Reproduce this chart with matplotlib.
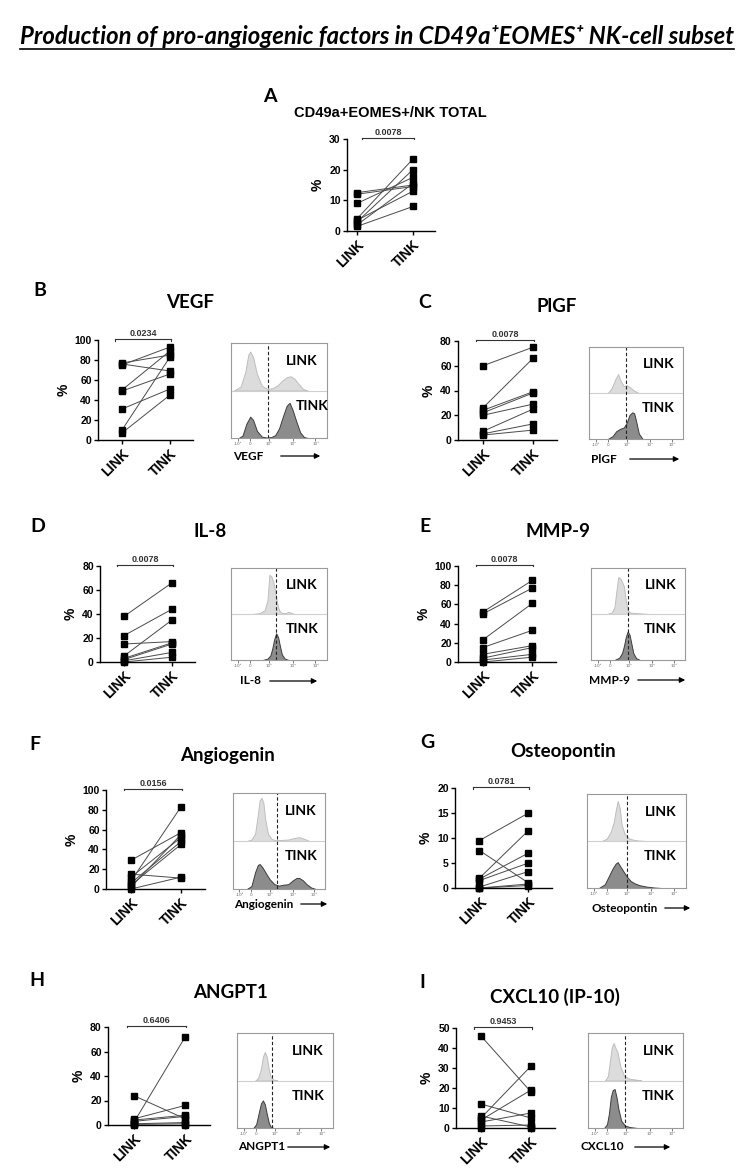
import matplotlib
matplotlib.use("Agg")
import matplotlib.pyplot as plt
from matplotlib.patches import FancyArrowPatch
from matplotlib.lines import Line2D

plt.rcParams['font.family'] = ['Liberation Sans', 'DejaVu Sans']

W, H = 751, 1176

# paired values (% of cells), LINK -> TINK, one pair per donor
a_link = [12.5, 12, 9, 4, 3.5, 3, 2, 1.5]
a_tink = [15, 14.5, 17.5, 23.5, 13, 20, 15.5, 8]
vegf_link = [77, 76, 75, 50, 49, 31, 10, 7]
vegf_tink = [85, 69, 93, 89, 66, 51, 83, 45]
plgf_link = [60, 26, 24, 22, 20, 7, 5, 4]
plgf_tink = [75, 66, 39, 38, 29, 25, 13, 8]
il8_link = [38, 22, 15, 5, 3, 2, 1, 0]
il8_tink = [66, 44, 17, 35, 16, 15, 8, 4]
mmp9_link = [52, 50, 23, 15, 8, 4, 2, 0]
mmp9_tink = [85, 77, 61, 33, 17, 15, 8, 5]
angio_link = [29, 15, 12, 8, 6, 4, 2, 0]
angio_tink = [57, 11, 52, 83, 48, 45, 55, 12]
opn_link = [9.5, 7.5, 2, 1.8, 1.5, 0.2, 0, 0]
opn_tink = [15, 1, 11.5, 7, 5, 3.3, 0.8, 0.5]
angpt1_link = [24, 5, 4, 3, 2, 1, 0.5, 0]
angpt1_tink = [5, 16, 8, 7, 72, 2, 1, 0]
cxcl10_link = [46, 12, 6, 5, 4, 3, 1, 0]
cxcl10_tink = [18, 5, 0.5, 31, 19, 7.5, 1.5, 0]

p_values = ['0.0078', '0.0234', '0.0078', '0.0078', '0.0078', '0.0156', '0.0781', '0.6406', '0.9453']
y_max = [30, 100, 80, 80, 100, 100, 20, 80, 50]
y_step = [10, 20, 20, 20, 20, 20, 5, 20, 10]

# representative flow histograms (x: fraction of log axis, y: fraction of band)
vegf_hl_x = [0.03, 0.1, 0.15, 0.18, 0.2, 0.23, 0.27, 0.32, 0.38, 0.43, 0.48, 0.53, 0.58, 0.62, 0.66, 0.7, 0.75, 0.8]
vegf_hl_y = [0, 0.08, 0.4, 0.75, 0.82, 0.7, 0.35, 0.1, 0.03, 0.05, 0.1, 0.2, 0.28, 0.3, 0.25, 0.15, 0.03, 0]
vegf_ht_x = [0.08, 0.12, 0.16, 0.2, 0.23, 0.27, 0.32, 0.37, 0.42, 0.46, 0.5, 0.54, 0.58, 0.61, 0.64, 0.68, 0.72, 0.76, 0.8]
vegf_ht_y = [0, 0.05, 0.3, 0.45, 0.38, 0.15, 0.03, 0.01, 0.02, 0.06, 0.2, 0.45, 0.68, 0.74, 0.6, 0.35, 0.12, 0.02, 0]
plgf_hl_x = [0.2, 0.24, 0.28, 0.31, 0.34, 0.37, 0.4, 0.44, 0.48, 0.53]
plgf_hl_y = [0, 0.1, 0.3, 0.41, 0.25, 0.15, 0.17, 0.12, 0.05, 0]
plgf_ht_x = [0.2, 0.25, 0.29, 0.33, 0.37, 0.4, 0.43, 0.46, 0.48, 0.5, 0.53, 0.57]
plgf_ht_y = [0, 0.06, 0.17, 0.22, 0.25, 0.35, 0.52, 0.58, 0.56, 0.4, 0.12, 0]
il8_hl_x = [0.22, 0.3, 0.35, 0.38, 0.4, 0.42, 0.44, 0.46, 0.48, 0.5, 0.53, 0.57, 0.6, 0.63, 0.66]
il8_hl_y = [0, 0.02, 0.08, 0.3, 0.85, 0.82, 0.7, 0.5, 0.25, 0.08, 0.02, 0.02, 0.05, 0.02, 0]
il8_ht_x = [0.33, 0.38, 0.41, 0.43, 0.45, 0.47, 0.49, 0.51, 0.53, 0.56, 0.6]
il8_ht_y = [0, 0.03, 0.1, 0.25, 0.45, 0.58, 0.5, 0.3, 0.12, 0.03, 0]
mmp9_hl_x = [0.17, 0.22, 0.25, 0.27, 0.29, 0.31, 0.33, 0.35, 0.37, 0.39, 0.42, 0.47, 0.55, 0.62]
mmp9_hl_y = [0, 0.03, 0.15, 0.5, 0.8, 0.78, 0.7, 0.6, 0.3, 0.08, 0.03, 0.02, 0.01, 0]
mmp9_ht_x = [0.25, 0.3, 0.33, 0.35, 0.37, 0.39, 0.41, 0.43, 0.45, 0.48, 0.52]
mmp9_ht_y = [0, 0.05, 0.15, 0.3, 0.5, 0.62, 0.55, 0.35, 0.15, 0.04, 0]
angio_hl_x = [0.15, 0.2, 0.24, 0.27, 0.29, 0.31, 0.33, 0.35, 0.38, 0.42, 0.46, 0.5, 0.6, 0.66, 0.72, 0.78, 0.83]
angio_hl_y = [0, 0.03, 0.15, 0.55, 0.85, 0.9, 0.8, 0.45, 0.15, 0.04, 0.02, 0.02, 0.03, 0.06, 0.08, 0.04, 0]
angio_ht_x = [0.15, 0.2, 0.24, 0.27, 0.29, 0.32, 0.36, 0.4, 0.45, 0.5, 0.55, 0.6, 0.65, 0.69, 0.72, 0.76, 0.8, 0.85, 0.9]
angio_ht_y = [0, 0.06, 0.35, 0.5, 0.52, 0.45, 0.32, 0.2, 0.1, 0.07, 0.09, 0.1, 0.18, 0.23, 0.23, 0.18, 0.1, 0.03, 0]
opn_hl_x = [0.15, 0.2, 0.24, 0.27, 0.29, 0.31, 0.33, 0.35, 0.38, 0.42, 0.46, 0.52, 0.6]
opn_hl_y = [0, 0.05, 0.2, 0.4, 0.65, 0.85, 0.7, 0.35, 0.15, 0.06, 0.03, 0.01, 0]
opn_ht_x = [0.12, 0.18, 0.22, 0.26, 0.29, 0.31, 0.33, 0.36, 0.4, 0.44, 0.48, 0.53, 0.6, 0.68, 0.75]
opn_ht_y = [0, 0.08, 0.25, 0.42, 0.52, 0.55, 0.48, 0.38, 0.25, 0.15, 0.1, 0.06, 0.03, 0.01, 0]
angpt1_hl_x = [0.19, 0.22, 0.25, 0.27, 0.29, 0.31, 0.33, 0.35, 0.38, 0.42]
angpt1_hl_y = [0, 0.05, 0.25, 0.5, 0.6, 0.5, 0.25, 0.08, 0.02, 0]
angpt1_ht_x = [0.17, 0.2, 0.23, 0.25, 0.27, 0.29, 0.31, 0.33, 0.35, 0.38]
angpt1_ht_y = [0, 0.08, 0.35, 0.52, 0.58, 0.5, 0.3, 0.12, 0.03, 0]
cxcl10_hl_x = [0.18, 0.21, 0.23, 0.25, 0.27, 0.29, 0.31, 0.34, 0.38, 0.43, 0.5, 0.56]
cxcl10_hl_y = [0, 0.1, 0.4, 0.7, 0.79, 0.68, 0.6, 0.3, 0.1, 0.04, 0.02, 0]
cxcl10_ht_x = [0.17, 0.2, 0.22, 0.24, 0.26, 0.28, 0.3, 0.32, 0.35, 0.39, 0.44, 0.52]
cxcl10_ht_y = [0, 0.08, 0.3, 0.65, 0.8, 0.82, 0.65, 0.4, 0.15, 0.05, 0.02, 0]

fig = plt.figure(figsize=(W / 100, H / 100), dpi=100)


def px_axes(l, t, r, b):
    return fig.add_axes([l / W, 1 - b / H, (r - l) / W, (b - t) / H])


def ftext(x, y, s, **kw):
    return fig.text(x / W, 1 - y / H, s, **kw)


def pair_plot(box, link, tink, ymax, ystep, pval, xlim, bar_x):
    ax = px_axes(*box)
    for a, b in zip(link, tink):
        ax.plot([0, 1], [a, b], color='#4a4a4a', lw=0.7, zorder=2, clip_on=False)
    ax.plot([0] * len(link), link, 's', ms=4.5, color='black', zorder=3, clip_on=False)
    ax.plot([1] * len(tink), tink, 's', ms=4.5, color='black', zorder=3, clip_on=False)
    ax.set_xlim(xlim)
    ax.set_ylim(0, ymax)
    ax.set_yticks(range(0, ymax + 1, ystep))
    ax.set_xticks([0, 1])
    ax.set_xticklabels(['LINK', 'TINK'], rotation=45, ha='right', va='top',
                       rotation_mode='anchor', fontsize=10, fontweight='bold')
    for lab in ax.get_yticklabels():
        lab.set_fontsize(7.5)
        lab.set_fontweight('bold')
    ax.spines['top'].set_visible(False)
    ax.spines['right'].set_visible(False)
    for s in ['left', 'bottom']:
        ax.spines[s].set_linewidth(1.0)
    ax.tick_params(length=3, width=1, pad=1.5)
    ax.set_ylabel('%', fontsize=10, fontweight='bold', labelpad=3)
    yb = ymax * 1.01
    ax.plot(bar_x, [yb, yb], color='#333333', lw=0.8, clip_on=False)
    for xb in bar_x:
        ax.plot([xb, xb], [yb, yb - ymax * 0.015], color='#333333', lw=0.8, clip_on=False)
    ax.text(sum(bar_x) / 2, yb + ymax * 0.01, pval, ha='center', va='bottom',
            fontsize=6.5, fontweight='bold', color='#333333')
    return ax


def hist_plot(box, gate, lx, ly, tx, ty, name, lab_x, arr, lab_y, tink_tx=0.74):
    ax = px_axes(*box)
    ax.fill_between(tx, 0, ty, facecolor='#8c8c8c', edgecolor='#3c3c3c', lw=0.7)
    ax.fill_between(lx, 1, [1 + v for v in ly], facecolor='#dcdcdc', edgecolor='#bebebe', lw=0.7)
    ax.axhline(1, color='#cfcfcf', lw=0.8)
    ax.axvline(gate, color='#222222', lw=0.8, ls=(0, (3, 2)))
    ax.set_xlim(0, 1)
    ax.set_ylim(0, 2)
    ax.set_yticks([])
    ax.set_xticks([0.07, 0.2, 0.4, 0.65, 0.88])
    ax.set_xticklabels(['-10³', '0', '10³', '10⁴', '10⁵'], fontsize=3, color='#666666',
                       family='DejaVu Sans')
    ax.tick_params(axis='x', length=2, width=0.6, color='#666666', pad=1)
    for s in ax.spines.values():
        s.set_color('#9a9a9a')
        s.set_linewidth(0.8)
    ax.text(0.74, 1.62, 'LINK', ha='center', va='center', fontsize=10,
            fontweight='bold', family='Lato')
    ax.text(tink_tx, 0.68, 'TINK', ha='center', va='center', fontsize=10,
            fontweight='bold', family='Lato')
    ftext(lab_x, lab_y, name, ha='center', va='center', fontsize=8.5,
          fontweight='bold', family='Lato')
    arrow = FancyArrowPatch((arr[0] / W, 1 - lab_y / H), (arr[1] / W, 1 - lab_y / H),
                            transform=fig.transFigure, arrowstyle='-|>',
                            mutation_scale=8, color='black', lw=0.9)
    fig.add_artist(arrow)
    return ax


# title
title = ftext(377, 37, 'Production of pro-angiogenic factors in CD49a⁺EOMES⁺ NK-cell subset',
              ha='center', va='center', fontsize=17.2, fontweight='bold', style='italic',
              family=['Lato', 'DejaVu Sans'])

# panel A
ftext(270, 97, 'A', ha='center', va='center', fontsize=14, fontweight='bold', family='Lato')
ftext(390, 113, 'CD49a+EOMES+/NK TOTAL', ha='center', va='center', fontsize=10.5, fontweight='bold')
pair_plot((347, 139, 435, 231), a_link, a_tink, y_max[0], y_step[0], p_values[0],
          (-0.179, 1.393), [0.09, 1.02])

xl = (-0.5, 1.48)
bx = [-0.14, 1.02]

letters = ['B', 'C', 'D', 'E', 'F', 'G', 'H', 'I']
letter_pos = [(40, 290), (425, 302), (38, 527), (425, 527), (35, 745), (427, 742), (37, 980), (422, 982)]
titles = ['VEGF', 'PlGF', 'IL-8', 'MMP-9', 'Angiogenin', 'Osteopontin', 'ANGPT1', 'CXCL10 (IP-10)']
title_pos = [(190, 303), (557, 307), (210, 532), (558, 532), (227, 755), (563, 752), (230, 992), (555, 997)]
pair_boxes = [(98, 340, 193, 440), (458, 341, 557, 440), (100, 566, 195, 662), (458, 566, 556, 662),
              (106, 790, 205, 889), (455, 788, 552, 888), (108, 1027, 210, 1125), (456, 1028, 555, 1128)]
hist_boxes = [(231, 343, 327, 438), (589, 347, 683, 439), (231, 568, 327, 660), (591, 568, 685, 660),
              (233, 793, 325, 889), (587, 794, 686, 888), (237, 1033, 333, 1128), (588, 1033, 683, 1128)]
gates = [0.385, 0.39, 0.47, 0.39, 0.48, 0.40, 0.36, 0.39]
hist_labels = ['VEGF', 'PlGF', 'IL-8', 'MMP-9', 'Angiogenin', 'Osteopontin', 'ANGPT1', 'CXCL10']
hist_label_pos = [(248, 456), (604, 459), (250, 681), (610, 680), (264, 904), (625, 908), (262, 1147), (602, 1147)]
hist_arrows = [(278, 323), (627, 682), (267, 320), (635, 688), (298, 330), (662, 693), (285, 333), (632, 673)]

links = [vegf_link, plgf_link, il8_link, mmp9_link, angio_link, opn_link, angpt1_link, cxcl10_link]
tinks = [vegf_tink, plgf_tink, il8_tink, mmp9_tink, angio_tink, opn_tink, angpt1_tink, cxcl10_tink]
hists = [(vegf_hl_x, vegf_hl_y, vegf_ht_x, vegf_ht_y), (plgf_hl_x, plgf_hl_y, plgf_ht_x, plgf_ht_y),
         (il8_hl_x, il8_hl_y, il8_ht_x, il8_ht_y), (mmp9_hl_x, mmp9_hl_y, mmp9_ht_x, mmp9_ht_y),
         (angio_hl_x, angio_hl_y, angio_ht_x, angio_ht_y), (opn_hl_x, opn_hl_y, opn_ht_x, opn_ht_y),
         (angpt1_hl_x, angpt1_hl_y, angpt1_ht_x, angpt1_ht_y),
         (cxcl10_hl_x, cxcl10_hl_y, cxcl10_ht_x, cxcl10_ht_y)]

for i in range(8):
    ftext(*letter_pos[i], letters[i], ha='center', va='center', fontsize=14,
          fontweight='bold', family='Lato')
    ftext(*title_pos[i], titles[i], ha='center', va='center', fontsize=13.5,
          fontweight='bold', family='Lato')
    pair_plot(pair_boxes[i], links[i], tinks[i], y_max[i + 1], y_step[i + 1], p_values[i + 1], xl, bx)
    lx, ly, tx, ty = hists[i]
    hist_plot(hist_boxes[i], gates[i], lx, ly, tx, ty, hist_labels[i], hist_label_pos[i][0],
              hist_arrows[i], hist_label_pos[i][1], tink_tx=0.85 if i == 0 else 0.74)

# underline the title
fig.canvas.draw()
bb = title.get_window_extent(fig.canvas.get_renderer())
fig.add_artist(Line2D([bb.x0 / fig.bbox.width, bb.x1 / fig.bbox.width],
                      [(bb.y0 - 0.5) / fig.bbox.height] * 2,
                      transform=fig.transFigure, color='black', lw=1.2))

fig.savefig('out.png', dpi=100)
